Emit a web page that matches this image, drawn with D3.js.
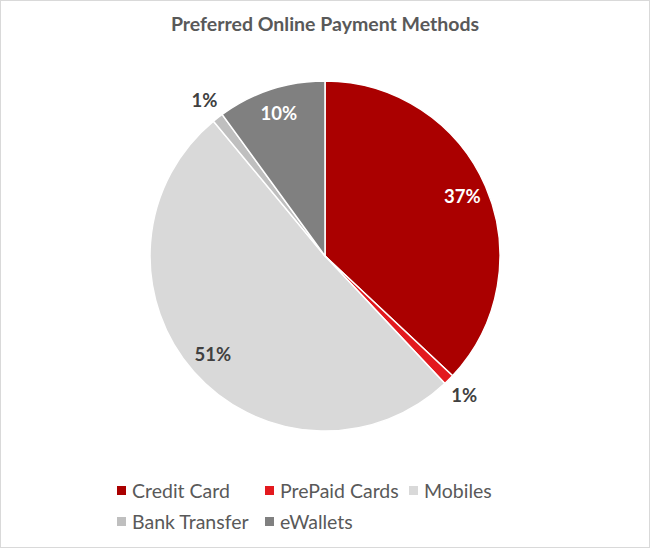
<!DOCTYPE html>
<html><head><meta charset="utf-8">
<script src="https://cdn.jsdelivr.net/npm/d3@7"></script>
<style>body{margin:0;background:#fff}svg{display:block}</style>
</head><body>
<script>
const categories = ["Credit Card","PrePaid Cards","Mobiles","Bank Transfer","eWallets"];
const values = [37,1,51,1,10];
const colors = ["#AA0000","#E3191E","#D9D9D9","#BFBFBF","#808080"];
const title = "Preferred Online Payment Methods";

const W=650,H=548, cx=325, cy=256, R=175;
const svg=d3.select("body").append("svg").attr("width",W).attr("height",H);
svg.append("rect").attr("x",0.5).attr("y",0.5).attr("width",W-1).attr("height",H-1)
  .attr("fill","#fff").attr("stroke","#D9D9D9");
svg.append("text").attr("x",cx).attr("y",31).attr("text-anchor","middle")
  .attr("font-family","Lato, 'Open Sans', sans-serif").attr("font-weight","bold")
  .attr("font-size",19.5).attr("fill","#595959").text(title);

const data=categories.map((c,i)=>({c,v:values[i],col:colors[i]}));
const pie=d3.pie().value(d=>d.v).sort(null);
const arc=d3.arc().innerRadius(0).outerRadius(R);
const arcs=pie(data);
const g=svg.append("g").attr("transform",`translate(${cx},${cy})`);
g.selectAll("path").data(arcs).join("path").attr("d",arc)
  .attr("fill",d=>d.data.col).attr("stroke","#fff").attr("stroke-width",1.5);

const inArc=d3.arc().innerRadius(R*0.855).outerRadius(R*0.855);
const outArc=d3.arc().innerRadius(R*1.125).outerRadius(R*1.125);
g.selectAll("text.lbl").data(arcs).join("text").attr("class","lbl")
  .attr("transform",d=>{
    const small=d.data.v<3;
    const p=(small?outArc:inArc).centroid(d);
    return `translate(${p[0]},${p[1]})`;})
  .attr("text-anchor","middle").attr("dy","0.35em")
  .attr("font-family","Lato, 'Open Sans', sans-serif").attr("font-weight","bold")
  .attr("font-size",18.5)
  .attr("fill",d=>(d.data.v<3||d.data.c==="Mobiles")?"#404040":"#fff")
  .text(d=>d.data.v+"%");

const legPos=[[117,491],[265,491],[409,491],[117,522],[265,522]];
const lg=svg.append("g").selectAll("g").data(data).join("g")
  .attr("transform",(d,i)=>`translate(${legPos[i][0]},${legPos[i][1]})`);
lg.append("rect").attr("x",0).attr("y",-5).attr("width",9).attr("height",9).attr("fill",d=>d.col);
lg.append("text").attr("x",15).attr("y",0).attr("dy","0.35em")
  .attr("font-family","Lato, 'Open Sans', sans-serif").attr("font-size",19.5)
  .attr("fill","#595959").text(d=>d.c);
</script>
</body></html>
